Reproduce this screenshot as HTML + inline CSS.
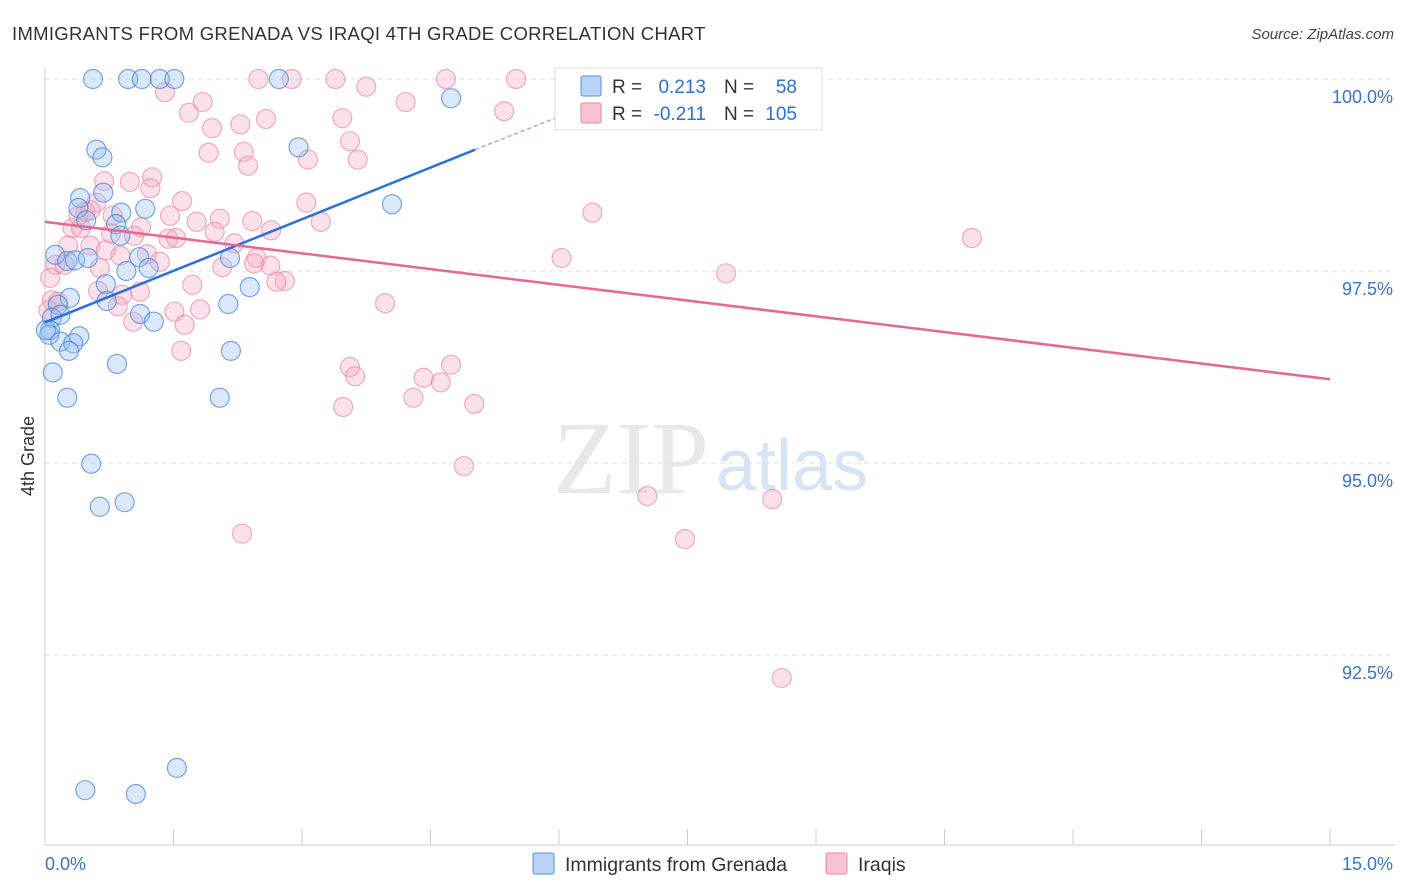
<!DOCTYPE html>
<html><head><meta charset="utf-8"><style>
body{margin:0;background:#fff;font-family:"Liberation Sans",sans-serif;}
svg{display:block}
</style></head><body>
<svg id="chart" width="1406" height="892" viewBox="0 0 1406 892">
<text x="12" y="40" font-size="18.5" letter-spacing="0.3" fill="#333">IMMIGRANTS FROM GRENADA VS IRAQI 4TH GRADE CORRELATION CHART</text>
<text x="1394" y="39" font-size="15" fill="#444" font-style="italic" text-anchor="end">Source: ZipAtlas.com</text>
<text x="34" y="456" font-size="18" fill="#333" text-anchor="middle" transform="rotate(-90 34 456)">4th Grade</text>
<g>
<text x="553" y="493" font-size="104" font-family="Liberation Serif,serif" fill="#e8e8e8">ZIP</text>
<text x="716" y="490" font-size="72" fill="#d6e4f5">atlas</text>
</g>
<g id="grid"></g><g id="axes"></g>
<g id="pink"></g><g id="blue"></g><g id="trends"></g>
<g>
<rect x="555" y="68" width="267" height="62" fill="#fff" stroke="#ddd"/>
<rect x="581" y="76" width="20" height="20" fill="#b8d3f5" stroke="#5a8fd8" rx="2"/>
<rect x="581" y="103" width="20" height="20" fill="#f9c3d3" stroke="#e887a7" rx="2"/>
<text x="612" y="93" font-size="19" fill="#333">R =</text>
<text x="706" y="93" font-size="19" fill="#2f6fd0" text-anchor="end">0.213</text>
<text x="724" y="93" font-size="19" fill="#333">N =</text>
<text x="797" y="93" font-size="19" fill="#2f6fd0" text-anchor="end">58</text>
<text x="612" y="120" font-size="19" fill="#333">R =</text>
<text x="706" y="120" font-size="19" fill="#2f6fd0" text-anchor="end">-0.211</text>
<text x="724" y="120" font-size="19" fill="#333">N =</text>
<text x="797" y="120" font-size="19" fill="#2f6fd0" text-anchor="end">105</text>
</g>
<g>
<rect x="533" y="853" width="21" height="21" fill="#b8d3f5" stroke="#5a8fd8" rx="2"/>
<text x="565" y="871" font-size="19.5" fill="#333">Immigrants from Grenada</text>
<rect x="826" y="853" width="21" height="21" fill="#f9c3d3" stroke="#e887a7" rx="2"/>
<text x="858" y="871" font-size="19.5" fill="#333">Iraqis</text>
</g>
</svg>
<script>
const blueX=[0.56,0.97,1.13,1.34,1.51,2.73,4.74,0.60,0.67,2.96,0.41,0.68,0.39,1.17,0.89,0.83,0.88,4.05,0.12,0.26,0.35,0.50,1.10,1.21,0.95,2.16,0.29,0.71,2.39,0.15,0.08,0.72,2.14,1.11,1.27,0.06,0.05,0.40,0.18,0.33,0.28,0.84,2.17,0.09,0.26,2.04,0.54,0.93,0.64,1.54,0.47,1.06,0.18,0.01,0.48];
const blueY=[100,100,100,100,100,100,99.75,99.08,98.98,99.11,98.45,98.52,98.32,98.31,98.26,98.11,97.96,98.37,97.71,97.63,97.64,97.67,97.68,97.54,97.50,97.67,97.15,97.33,97.29,97.06,96.89,97.11,97.07,96.94,96.84,96.73,96.67,96.65,96.58,96.56,96.46,96.29,96.46,96.18,95.85,95.85,94.99,94.49,94.43,91.03,90.74,90.69,96.93,96.73,98.16];
const pinkX=[1.40,2.49,2.88,3.39,4.68,5.50,7.79,1.84,1.68,3.75,4.21,5.36,1.95,2.58,3.47,2.28,1.91,2.32,3.56,2.37,3.07,3.65,1.25,0.99,0.69,1.23,1.60,0.60,3.05,0.47,0.53,0.79,1.46,2.04,2.42,3.22,6.39,0.32,0.42,1.12,1.77,2.64,1.98,0.77,1.04,1.44,1.53,2.21,0.27,0.53,1.19,0.88,1.34,2.47,0.12,0.23,0.64,2.63,2.07,2.44,6.03,7.95,10.82,2.80,2.70,1.72,0.62,1.11,0.90,0.08,0.85,1.81,1.51,3.97,1.03,1.63,1.59,3.56,3.62,4.74,4.42,4.62,4.30,3.48,5.01,4.89,7.03,8.49,2.30,7.47,8.60,0.06,0.04,0.15,0.39,0.71];
const pinkY=[99.83,100,100,100,100,100,100,99.70,99.56,99.90,99.70,99.58,99.36,99.48,99.49,99.41,99.04,99.05,99.19,98.87,98.95,98.95,98.72,98.66,98.67,98.58,98.41,98.39,98.39,98.27,98.29,98.22,98.22,98.18,98.15,98.14,98.26,98.06,98.06,98.07,98.14,98.03,98.01,97.99,97.96,97.92,97.93,97.86,97.83,97.83,97.72,97.70,97.62,97.67,97.58,97.58,97.54,97.57,97.55,97.60,97.67,97.47,97.93,97.37,97.36,97.32,97.24,97.23,97.19,97.12,97.04,97.00,96.97,97.08,96.84,96.80,96.46,96.25,96.13,96.28,96.11,96.05,95.85,95.73,95.77,94.96,94.57,94.53,94.08,94.01,92.20,97.41,96.99,97.10,98.22,97.77];
const yTicks=[100,97.5,95,92.5];
const yTickLabels=["100.0%","97.5%","95.0%","92.5%"];
const xTickLabels=["0.0%","15.0%"];
const blueTrend=[[0,96.83],[5.02,99.08]];
const blueTrendExt=[[5.02,99.08],[6.0,99.51]];
const pinkTrend=[[0,98.14],[15,96.09]];
const NS="http://www.w3.org/2000/svg";
const X=v=>45+v/15*1285;
const Y=v=>79+(100-v)/2.5*192;
function mk(t,a,p){const e=document.createElementNS(NS,t);for(const k in a)e.setAttribute(k,a[k]);p.appendChild(e);return e;}
const grid=document.getElementById('grid'),axes=document.getElementById('axes');
yTicks.forEach((t,i)=>{
 const l=mk('line',{x1:45,x2:1395,y1:Y(t),y2:Y(t),stroke:'#e2e2e2','stroke-dasharray':'5,4'},grid);
 
 
 const tx=mk('text',{x:1393,y:Y(t)+24,'font-size':18,fill:'#3a72cc','text-anchor':'end'},axes);
 tx.textContent=yTickLabels[i];
 
 
});
const ya=mk('line',{x1:45,x2:45,y1:68,y2:845,stroke:'#ccc'},axes);


const xa=mk('line',{x1:45,x2:1395,y1:845,y2:845,stroke:'#ccc'},axes);


for(let i=0;i<=10;i++){const v=i*1.5;const tk=mk('line',{x1:X(v),x2:X(v),y1:829,y2:845,stroke:'#ccc'},axes);
 
 }
[[0,'start',45],[15,'end',1393]].forEach((d,i)=>{const t=mk('text',{x:d[2],y:870,'font-size':18,fill:'#3a72cc','text-anchor':d[1]},axes);t.textContent=xTickLabels[i];
 
 });
const pg=document.getElementById('pink'),bg=document.getElementById('blue');
pinkX.forEach((x,i)=>{const c=mk('circle',{cx:X(x),cy:Y(pinkY[i]),r:9.5,fill:'rgba(246,170,196,0.35)',stroke:'rgba(232,130,166,0.65)','stroke-width':1.2},pg);
 
 });
blueX.forEach((x,i)=>{const c=mk('circle',{cx:X(x),cy:Y(blueY[i]),r:9.5,fill:'rgba(150,190,240,0.35)',stroke:'rgba(70,130,215,0.7)','stroke-width':1.2},bg);
 
 });
const tg=document.getElementById('trends');
const b=mk('line',{x1:X(blueTrend[0][0]),y1:Y(blueTrend[0][1]),x2:X(blueTrend[1][0]),y2:Y(blueTrend[1][1]),stroke:'#2d6fd6','stroke-width':2.5},tg);


const bd=mk('line',{x1:X(blueTrendExt[0][0]),y1:Y(blueTrendExt[0][1]),x2:X(blueTrendExt[1][0]),y2:Y(blueTrendExt[1][1]),stroke:'#8fb2e6','stroke-width':1.5,'stroke-dasharray':'4,3'},tg);


const p=mk('line',{x1:X(pinkTrend[0][0]),y1:Y(pinkTrend[0][1]),x2:X(pinkTrend[1][0]),y2:Y(pinkTrend[1][1]),stroke:'#e8668f','stroke-width':2.5},tg);


</script>
</body></html>
